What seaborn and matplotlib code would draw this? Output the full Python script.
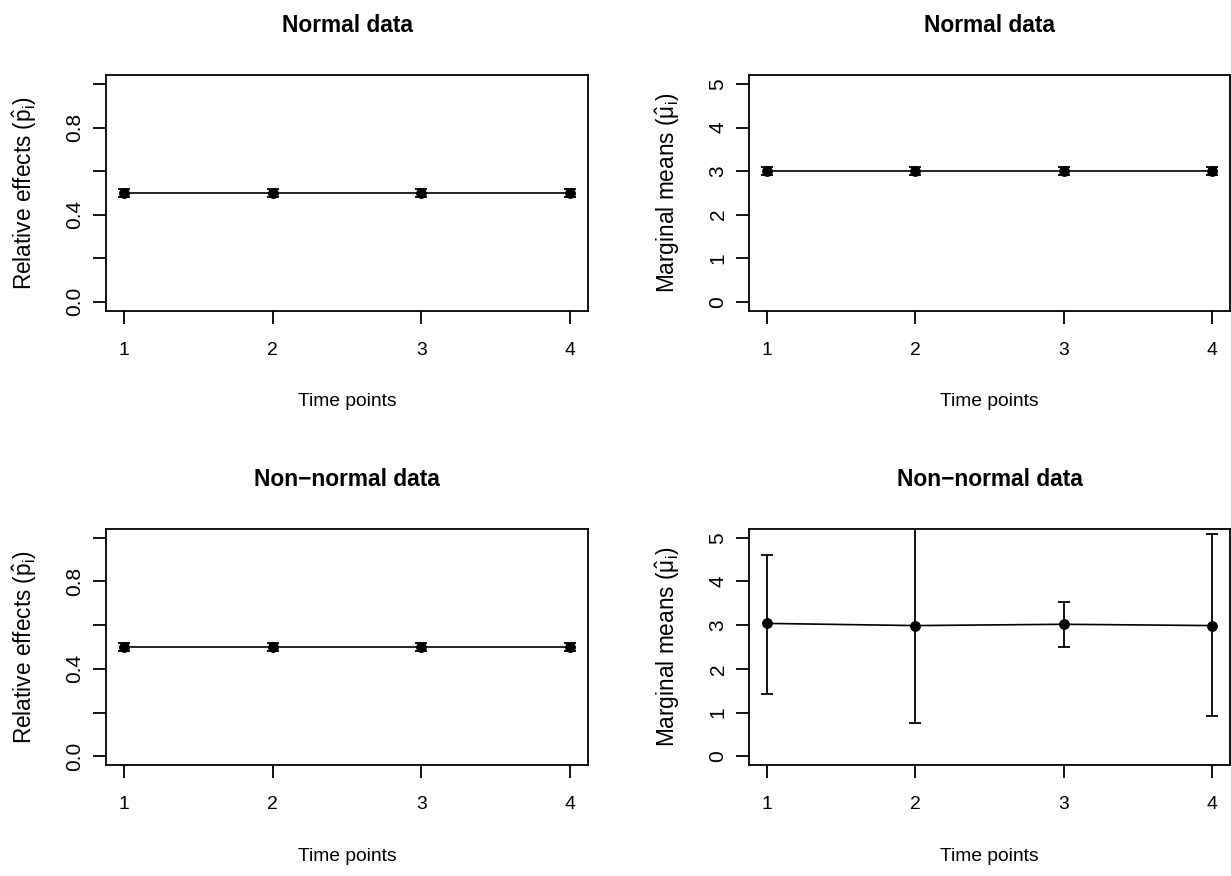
import numpy as np
import pandas as pd
import matplotlib
matplotlib.use("Agg")
import matplotlib.pyplot as plt
import seaborn as sns

# ---- data ----
time_points = [1, 2, 3, 4]

# Normal data
rel_normal = [0.5, 0.5, 0.5, 0.5]
rel_normal_lo = [0.482, 0.482, 0.482, 0.482]
rel_normal_hi = [0.518, 0.518, 0.518, 0.518]
mean_normal = [3.0, 3.0, 3.0, 3.0]
mean_normal_lo = [2.91, 2.91, 2.91, 2.91]
mean_normal_hi = [3.09, 3.09, 3.09, 3.09]

# Non-normal data
rel_nonnormal = [0.5, 0.5, 0.5, 0.5]
rel_nonnormal_lo = [0.482, 0.482, 0.482, 0.482]
rel_nonnormal_hi = [0.518, 0.518, 0.518, 0.518]
mean_nonnormal = [3.04, 2.99, 3.02, 2.99]
mean_nonnormal_lo = [1.43, 0.75, 2.49, 0.91]
mean_nonnormal_hi = [4.61, 5.23, 3.52, 5.08]

titles = ["Normal data", "Normal data", "Non\u2212normal data", "Non\u2212normal data"]
xlab = "Time points"
ylab_rel = r"Relative effects ($\hat{\mathrm{p}}_{\mathrm{i}}$)"
ylab_mean = r"Marginal means ($\hat{\mu}_{\mathrm{i}}$)"

rel_ticks = [0.0, 0.2, 0.4, 0.6, 0.8, 1.0]
rel_ticklabels = ["0.0", "", "0.4", "", "0.8", ""]
mean_ticks = [0, 1, 2, 3, 4, 5]
mean_ticklabels = ["0", "1", "2", "3", "4", "5"]

# ---- style ----
sns.set_theme(style="white")
plt.rcParams["font.family"] = ["Liberation Sans", "DejaVu Sans"]
plt.rcParams["mathtext.fontset"] = "custom"
plt.rcParams["mathtext.rm"] = "Liberation Sans"
plt.rcParams["mathtext.it"] = "Liberation Sans"
plt.rcParams["mathtext.bf"] = "Liberation Sans:bold"
plt.rcParams["text.color"] = "black"
plt.rcParams["axes.labelcolor"] = "black"
plt.rcParams["axes.titlecolor"] = "black"

W, H = 1231, 876
fig = plt.figure(figsize=(W / 100, H / 100), dpi=100)

FS = 13.9
FS_Y = 15.0
FS_YLAB = 16.3
LW = 1.3

def make_axes(left, right, top, bottom):
    return fig.add_axes([left / W, (H - bottom) / H, (right - left) / W, (bottom - top) / H])

boxes = [
    (106, 588, 75.3, 310.5),
    (749, 1230, 75.3, 310.5),
    (106, 588, 529, 765),
    (749, 1230, 529, 765),
]

panels = [
    (rel_normal, rel_normal_lo, rel_normal_hi, ylab_rel, (-0.04, 1.04), rel_ticks, rel_ticklabels),
    (mean_normal, mean_normal_lo, mean_normal_hi, ylab_mean, (-0.2, 5.2), mean_ticks, mean_ticklabels),
    (rel_nonnormal, rel_nonnormal_lo, rel_nonnormal_hi, ylab_rel, (-0.04, 1.04), rel_ticks, rel_ticklabels),
    (mean_nonnormal, mean_nonnormal_lo, mean_nonnormal_hi, ylab_mean, (-0.2, 5.2), mean_ticks, mean_ticklabels),
]

for i, (box, panel) in enumerate(zip(boxes, panels)):
    vals, lo, hi, ylab, ylim, yt, ytl = panel
    ax = make_axes(*box)
    df = pd.DataFrame({"t": time_points, "v": vals})
    vals_a = np.array(vals)
    yerr = [vals_a - np.array(lo), np.array(hi) - vals_a]
    ax.errorbar(time_points, vals, yerr=yerr, fmt="none", ecolor="black",
                elinewidth=LW, capsize=4, capthick=LW, zorder=2, clip_on=True)
    sns.lineplot(data=df, x="t", y="v", ax=ax, color="black", linewidth=1.2,
                 marker="o", markersize=7, markeredgecolor="black",
                 markerfacecolor="black", zorder=3)
    ax.set_xlim(0.88, 4.12)
    ax.set_ylim(*ylim)
    ax.set_xticks(time_points)
    ax.set_xticklabels([str(t) for t in time_points])
    ax.set_yticks(yt)
    ax.set_yticklabels(ytl)
    for s in ax.spines.values():
        s.set_visible(True)
        s.set_color("black")
        s.set_linewidth(LW)
    ax.tick_params(axis="both", which="both", direction="out", length=9.4,
                   width=LW, color="black", labelcolor="black",
                   bottom=True, left=True, top=False, right=False)
    ax.tick_params(axis="x", pad=13, labelsize=FS)
    ax.tick_params(axis="y", pad=6, labelsize=FS_Y)
    for lab in ax.get_yticklabels():
        lab.set_rotation(90)
        lab.set_va("center")
    ax.set_title(titles[i], fontsize=16.4, fontweight="bold", pad=31, color="black")
    ax.set_xlabel(xlab, fontsize=FS, color="black")
    ax.set_ylabel(ylab, fontsize=FS_YLAB, color="black")
    axh = box[3] - box[2]
    axw = box[1] - box[0]
    ax.xaxis.set_label_coords(0.5, -83 / axh)
    ax.yaxis.set_label_coords(-67 / axw, 0.5)
    ax.grid(False)

fig.savefig("out.png", dpi=100, facecolor="white")
